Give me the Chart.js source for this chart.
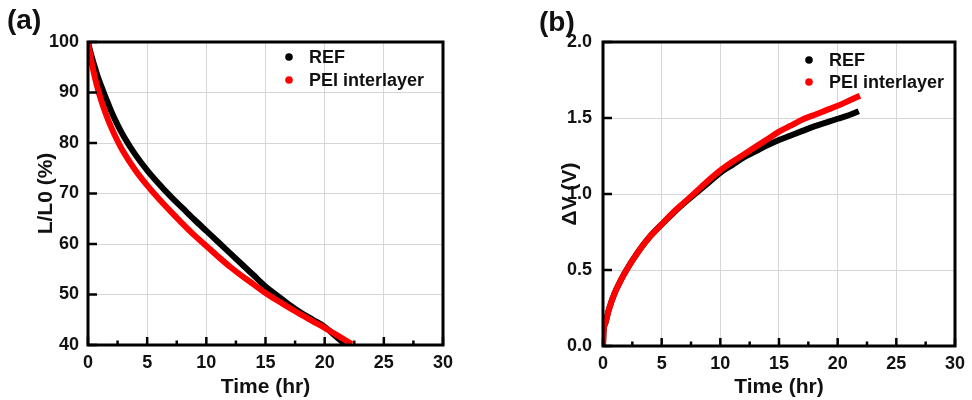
<!DOCTYPE html>
<html>
<head>
<meta charset="utf-8">
<title>Luminance and voltage vs time</title>
<script src="https://cdn.jsdelivr.net/npm/chart.js@4.4.1/dist/chart.umd.min.js"></script>
<style>
  html, body { margin: 0; padding: 0; background: #fff; }
  #wrap { position: relative; width: 972px; height: 400px; }
  .panel { position: absolute; top: 0; width: 486px; height: 400px; }
</style>
</head>
<body>
<div id="wrap">
  <div class="panel" style="left:0"><canvas id="chartA" width="486" height="400"></canvas></div>
  <div class="panel" style="left:486px"><canvas id="chartB" width="486" height="400"></canvas></div>
</div>
<script>
// ---- data ----
// (a) L/L0 (%) vs time (hr)
const refTimeA = [0, 0.25, 0.5, 0.75, 1, 1.5, 2, 2.5, 3, 4, 5, 6, 7, 8, 9, 10, 11, 12, 13, 14, 15, 16, 17, 18, 19, 20, 21, 21.7];
const refLumA  = [100, 97.6, 95.6, 93.7, 92.0, 89.0, 86.1, 83.6, 81.4, 77.7, 74.6, 71.9, 69.4, 67.1, 64.8, 62.6, 60.4, 58.2, 56.0, 53.8, 51.6, 49.8, 48.0, 46.4, 45.0, 43.6, 41.6, 40.2];
const peiTimeA = [0, 0.25, 0.5, 0.75, 1, 1.5, 2, 2.5, 3, 4, 5, 6, 7, 8, 9, 10, 11, 12, 13, 14, 15, 16, 17, 18, 19, 20, 21, 22.3];
const peiLumA  = [100, 96.6, 93.8, 91.4, 89.3, 85.8, 82.9, 80.4, 78.2, 74.6, 71.6, 68.9, 66.4, 64.0, 61.7, 59.6, 57.5, 55.5, 53.7, 52.0, 50.3, 48.8, 47.4, 46.0, 44.7, 43.4, 42.0, 40.2];

// (b) ΔV (V) vs time (hr)
const refTimeB = [0, 0.05, 0.2, 0.5, 1, 1.5, 2, 3, 4, 5, 6, 7, 8, 9, 10, 11, 12, 13, 14, 15, 16, 17, 18, 19, 20, 21, 21.8];
const refVoltB = [0, 0.10, 0.15, 0.24, 0.35, 0.43, 0.50, 0.62, 0.72, 0.80, 0.875, 0.945, 1.01, 1.075, 1.14, 1.19, 1.24, 1.28, 1.32, 1.355, 1.385, 1.415, 1.445, 1.47, 1.495, 1.52, 1.545];
const peiTimeB = [0, 0.05, 0.2, 0.5, 1, 1.5, 2, 3, 4, 5, 6, 7, 8, 9, 10, 11, 12, 13, 14, 15, 16, 17, 18, 19, 20, 21, 21.9];
const peiVoltB = [0, 0.10, 0.15, 0.24, 0.35, 0.43, 0.50, 0.62, 0.72, 0.80, 0.88, 0.95, 1.02, 1.09, 1.155, 1.21, 1.26, 1.31, 1.36, 1.41, 1.45, 1.49, 1.52, 1.55, 1.58, 1.615, 1.647];

const seriesLabels = ["REF", "PEI interlayer"];
const seriesColors = ["#000000", "#ff0000"];

// axis ranges / tick steps
const timeRange = [0, 30], timeStep = 5;
const lumRange = [40, 100], lumStep = 10;
const voltRange = [0, 2.0], voltStep = 0.5;

const FONT = '"Liberation Sans", Arial, Helvetica, sans-serif';

function toPoints(xs, ys) {
  return xs.map((x, i) => ({ x: x, y: ys[i] }));
}

// frame + inward tick marks (Origin style)
const framePlugin = {
  id: "frame",
  afterDatasetsDraw(chart) {
    const { ctx, chartArea: a } = chart;
    const xs = chart.scales.x, ys = chart.scales.y;
    ctx.save();
    ctx.strokeStyle = "#000";
    ctx.lineWidth = 2.5;
    ctx.beginPath();
    xs.ticks.forEach((t, i) => {
      const px = xs.getPixelForValue(t.value);
      ctx.moveTo(px, a.bottom); ctx.lineTo(px, a.bottom - 8);
      const nxt = xs.ticks[i + 1];
      if (nxt) {
        const mx = xs.getPixelForValue((t.value + nxt.value) / 2);
        ctx.moveTo(mx, a.bottom); ctx.lineTo(mx, a.bottom - 4.5);
      }
    });
    ys.ticks.forEach(t => {
      const py = ys.getPixelForValue(t.value);
      ctx.moveTo(a.left, py); ctx.lineTo(a.left + 9, py);
    });
    ctx.stroke();
    ctx.lineWidth = 3;
    ctx.strokeRect(a.left, a.top, a.right - a.left, a.bottom - a.top);
    ctx.restore();
  }
};

// panel letter + in-plot legend
const annotPlugin = {
  id: "annot",
  afterDraw(chart, args, opts) {
    const ctx = chart.ctx;
    ctx.save();
    ctx.textBaseline = "middle";
    ctx.textAlign = "left";
    ctx.fillStyle = "#111";
    ctx.font = "bold 28px " + FONT;
    ctx.fillText(opts.panel, opts.panelX, opts.panelY);
    ctx.font = "bold 18px " + FONT;
    chart.data.datasets.forEach((ds, i) => {
      const y = opts.legendY + i * opts.legendGap;
      ctx.fillStyle = ds.borderColor;
      ctx.beginPath();
      ctx.arc(opts.legendX, y, 3.8, 0, Math.PI * 2);
      ctx.fill();
      ctx.fillStyle = "#111";
      ctx.fillText(ds.label, opts.legendX + 20, y + 1);
    });
    ctx.restore();
  }
};

function makeChart(id, ref, pei, yRange, yStep, yTitle, yFmt, cfg) {
  return new Chart(document.getElementById(id), {
    type: "scatter",
    data: {
      datasets: [
        { label: seriesLabels[0], data: ref, borderColor: seriesColors[0], backgroundColor: seriesColors[0],
          showLine: true, pointRadius: 0, borderWidth: 6, cubicInterpolationMode: "monotone", order: 1 },
        { label: seriesLabels[1], data: pei, borderColor: seriesColors[1], backgroundColor: seriesColors[1],
          showLine: true, pointRadius: 0, borderWidth: 6, cubicInterpolationMode: "monotone", order: 0 }
      ]
    },
    plugins: [framePlugin, annotPlugin],
    options: {
      responsive: false,
      animation: false,
      layout: { padding: { top: 42, right: cfg.padRight, left: 0, bottom: 0 } },
      plugins: {
        legend: { display: false },
        tooltip: { enabled: false },
        annot: cfg.annot
      },
      scales: {
        x: {
          type: "linear", min: timeRange[0], max: timeRange[1],
          afterFit: s => { s.height = cfg.xHeight; },
          ticks: { stepSize: timeStep, padding: 7, color: "#111", font: { family: FONT, size: 18, weight: "bold" } },
          grid: { color: "#d6d6d6", lineWidth: 1, drawTicks: false },
          border: { display: false },
          title: { display: true, text: "Time (hr)", color: "#111", padding: { top: 0, bottom: 0 },
                   font: { family: FONT, size: 21, weight: "bold" } }
        },
        y: {
          type: "linear", min: yRange[0], max: yRange[1],
          afterFit: s => { s.width = cfg.yWidth; },
          ticks: { stepSize: yStep, padding: cfg.yTickPad, color: "#111", callback: yFmt,
                   font: { family: FONT, size: 18, weight: "bold" } },
          grid: { color: "#d6d6d6", lineWidth: 1, drawTicks: false },
          border: { display: false },
          title: { display: true, text: yTitle, color: "#111", padding: { top: cfg.yTitlePad, bottom: 0 },
                   font: { family: FONT, size: 21, weight: "bold" } }
        }
      }
    }
  });
}

makeChart("chartA", toPoints(refTimeA, refLumA), toPoints(peiTimeA, peiLumA),
  lumRange, lumStep, "L/L0 (%)", v => v,
  { padRight: 43, xHeight: 55, yWidth: 88, yTickPad: 9, yTitlePad: 34,
    annot: { panel: "(a)", panelX: 7, panelY: 21, legendX: 289, legendY: 57, legendGap: 23 } });

makeChart("chartB", toPoints(refTimeB, refVoltB), toPoints(peiTimeB, peiVoltB),
  voltRange, voltStep, "ΔV (V)", v => v.toFixed(1),
  { padRight: 15, xHeight: 54, yWidth: 117, yTickPad: 11, yTitlePad: 72,
    annot: { panel: "(b)", panelX: 53, panelY: 23, legendX: 323, legendY: 60, legendGap: 22 } });
</script>
</body>
</html>
